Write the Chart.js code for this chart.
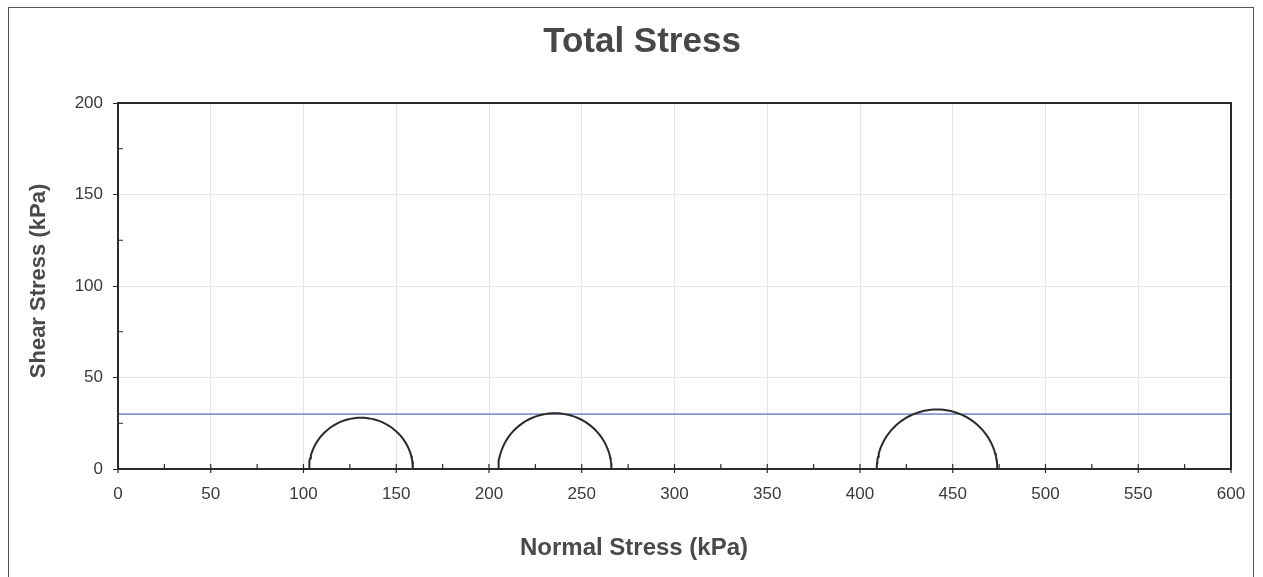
<!DOCTYPE html>
<html>
<head>
<meta charset="utf-8">
<script src="https://cdn.jsdelivr.net/npm/chart.js@4/dist/chart.umd.min.js"></script>
<style>
  body { margin: 0; background: #fff; }
  #wrap { width: 1263px; height: 577px; }
</style>
</head>
<body>
<div id="wrap"><canvas id="mohr"></canvas></div>
<script>
// test results (kPa)
const sigma3 = [103, 205, 409];
const sigma1 = [159, 266, 474];
// failure envelope: cohesion and friction angle
const cohesion = 30;
const phiDeg = 0;
const envelopeX = [0, 600];

const xTicks = [0, 50, 100, 150, 200, 250, 300, 350, 400, 450, 500, 550, 600];
const yTicks = [0, 50, 100, 150, 200];

const chartTitle = "Total Stress";
const xTitle = "Normal Stress (kPa)";
const yTitle = "Shear Stress (kPa)";

const FONT = "Liberation Sans, Arial, sans-serif";

//points of each half circle, built from sigma3 / sigma1
function halfCircle(s3, s1) {
  const c = (s1 + s3) / 2, r = (s1 - s3) / 2;
  const pts = [];
  for (let a = 180; a >= 0; a -= 3) {
    const t = a * Math.PI / 180;
    pts.push({ x: c + r * Math.cos(t), y: r * Math.sin(t) });
  }
  return pts;
}

const datasets = sigma3.map((s3, i) => ({
  data: halfCircle(s3, sigma1[i]),
  showLine: true,
  borderColor: "#2b2b2b",
  borderWidth: 2,
  pointRadius: 0,
  tension: 0,
}));
datasets.push({
  data: envelopeX.map(x => ({ x: x, y: cohesion + x * Math.tan(phiDeg * Math.PI / 180) })),
  showLine: true,
  borderColor: "#8896d2",
  borderWidth: 1.6,
  pointRadius: 0,
});

//outer frame, titles, plot box and the small ticks
const decor = {
  id: "decor",
  beforeDraw(chart) {
    const ctx = chart.ctx;
    const a = chart.chartArea;
    ctx.save();
    ctx.fillStyle = "#fff";
    ctx.fillRect(0, 0, chart.width, chart.height);
    ctx.strokeStyle = "#555";
    ctx.lineWidth = 1;
    ctx.strokeRect(8.5, 7.5, 1245, 600);

    ctx.fillStyle = "#474747";
    ctx.textAlign = "center";
    ctx.textBaseline = "middle";
    ctx.font = "bold 35px " + FONT;
    ctx.fillText(chartTitle, 642, 42);
    ctx.fillStyle = "#4a4a4a";
    ctx.font = "bold 24px " + FONT;
    ctx.fillText(xTitle, 634, 548);
    ctx.translate(39, (a.top + a.bottom) / 2 - 5);
    ctx.rotate(-Math.PI / 2);
    ctx.font = "bold 22px " + FONT;
    ctx.fillText(yTitle, 0, 0);
    ctx.restore();
  },
  afterDatasetsDraw(chart) {
    const { ctx, chartArea: a, scales: { x, y } } = chart;
    ctx.save();
    ctx.strokeStyle = "#2b2b2b";
    ctx.lineWidth = 2;
    ctx.strokeRect(a.left, a.top, a.right - a.left, a.bottom - a.top);
    ctx.lineWidth = 1.2;
    ctx.beginPath();
    for (let v = 0; v <= 600; v += 25) {
      const px = x.getPixelForValue(v);
      ctx.moveTo(px, a.bottom - 5);
      ctx.lineTo(px, a.bottom + (v % 50 === 0 ? 4 : 0));
    }
    for (let v = 25; v < 200; v += 50) {
      const py = y.getPixelForValue(v);
      ctx.moveTo(a.left, py);
      ctx.lineTo(a.left + 5, py);
    }
    ctx.stroke();
    ctx.restore();
  }
};

new Chart(document.getElementById("mohr"), {
  type: "scatter",
  data: { datasets: datasets },
  plugins: [decor],
  options: {
    responsive: true,
    maintainAspectRatio: false,
    animation: false,
    layout: { padding: { top: 103, right: 32, bottom: 0, left: 8 } },
    plugins: {
      legend: { display: false },
      tooltip: { enabled: false },
      title: { display: false },
    },
    scales: {
      x: {
        type: "linear",
        min: 0, max: 600,
        afterBuildTicks: s => { s.ticks = xTicks.map(v => ({ value: v })); },
        afterFit: s => { s.height = 108; },
        grid: { color: "#e6e6e6", drawTicks: false },
        border: { display: false },
        ticks: {
          color: "#3a3a3a",
          padding: 15,
          font: { family: FONT, size: 17 },
        },
      },
      y: {
        type: "linear",
        min: 0, max: 200,
        afterBuildTicks: s => { s.ticks = yTicks.map(v => ({ value: v })); },
        afterFit: s => { s.width = 110; },
        grid: { color: "#e6e6e6", tickLength: 5, tickColor: "#2b2b2b" },
        border: { display: false },
        ticks: {
          color: "#3a3a3a",
          padding: 10,
          font: { family: FONT, size: 17 },
        },
      },
    },
  },
});
</script>
</body>
</html>
